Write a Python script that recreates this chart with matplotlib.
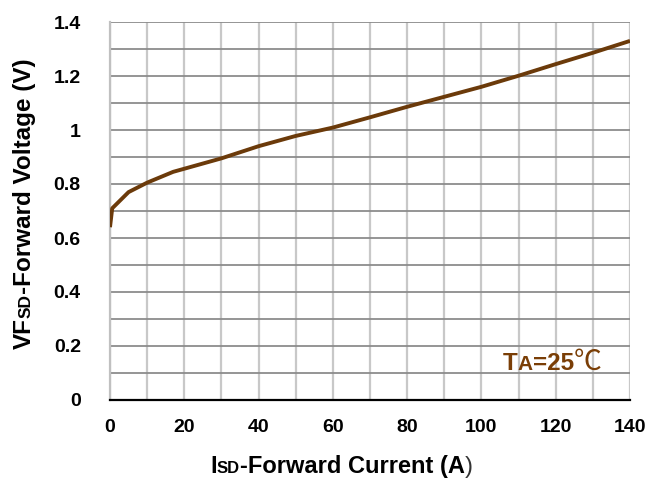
import matplotlib
matplotlib.use('Agg')
import matplotlib.pyplot as plt
from matplotlib.ticker import FormatStrFormatter, MultipleLocator

# 正向电流 (A) / 正向压降 (V)
current = [0, 0.6, 5, 10, 17, 30, 40, 50, 60, 70, 80, 90, 100, 110, 120, 130, 140]
voltage = [0.64, 0.71, 0.77, 0.805, 0.845, 0.895, 0.94, 0.978, 1.009, 1.047,
           1.086, 1.123, 1.16, 1.201, 1.244, 1.286, 1.33]
x_ticks = [0, 20, 40, 60, 80, 100, 120, 140]
y_ticks = [0, 0.2, 0.4, 0.6, 0.8, 1.0, 1.2, 1.4]

W, H = 646, 484
BROWN = '#6b3a0a'
TEXT_BROWN = '#7a3e06'
FONT = 'Liberation Sans'

plt.rcParams['font.family'] = [FONT, 'DejaVu Sans']
plt.rcParams['font.weight'] = 'bold'


def fxy(x, y):
    """像素坐标 -> figure 坐标"""
    return x / W, (H - y) / H


def put_pieces(fig, x, y, pieces, rotation=0):
    """按顺序排列不同字号的文字片段（基线对齐）"""
    renderer = fig.canvas.get_renderer()
    pos = 0.0
    for text, size, color, family, weight in pieces:
        if rotation:
            fx, fy = fxy(x, y - pos)
        else:
            fx, fy = fxy(x + pos, y)
        t = fig.text(fx, fy, text, fontsize=size, color=color, family=family,
                     fontweight=weight, ha='left', va='baseline')
        pos += t.get_window_extent(renderer).width
        if rotation:
            t.set_rotation(rotation)
            t.set_rotation_mode('anchor')


fig = plt.figure(figsize=(W / 100, H / 100), dpi=100)
ax = fig.add_axes([110 / W, (H - 400) / H, 520 / W, 378 / H])

ax.plot(current, voltage, color=BROWN, linewidth=2.8, solid_capstyle='butt', zorder=3)

ax.set_xlim(0, 140)
ax.set_ylim(0, 1.4)
ax.set_xticks(x_ticks)
ax.set_yticks(y_ticks)
ax.yaxis.set_major_formatter(FormatStrFormatter('%g'))
ax.xaxis.set_minor_locator(MultipleLocator(10))
ax.yaxis.set_minor_locator(MultipleLocator(0.1))

# 网格：竖线浅灰，横线深灰
ax.grid(True, which='both', axis='x', color='#c8c8c8', linewidth=1.6)
ax.grid(True, which='both', axis='y', color='#8c8c8c', linewidth=1.3)
ax.set_axisbelow(True)

for side in ['top', 'right']:
    ax.spines[side].set_visible(False)
ax.spines['left'].set_color('#c0c0c0')
ax.spines['left'].set_linewidth(1.6)
ax.spines['bottom'].set_color('black')
ax.spines['bottom'].set_linewidth(1.6)
ax.spines['bottom'].set_zorder(4)

ax.tick_params(which='both', length=0, labelsize=14)
ax.tick_params(axis='y', pad=21)
ax.tick_params(axis='x', pad=14)

# 坐标轴标题
put_pieces(fig, 31, 349, [
    ('VF', 17.5, 'black', FONT, 'bold'),
    ('SD', 12.5, 'black', FONT, 'bold'),
    ('-Forward Voltage (V)', 17.5, 'black', FONT, 'bold'),
], rotation=90)

put_pieces(fig, 210, 473, [
    ('I', 17, 'black', FONT, 'bold'),
    ('SD', 12, 'black', FONT, 'bold'),
    ('-Forward Current (A', 17, 'black', FONT, 'bold'),
    (')', 17, '#333333', FONT, 'normal'),
])

# 温度标注
put_pieces(fig, 503, 370, [
    ('T', 17.5, TEXT_BROWN, FONT, 'bold'),
    ('A', 15, TEXT_BROWN, FONT, 'bold'),
    ('=25', 17.5, TEXT_BROWN, FONT, 'bold'),
    ('℃', 20, TEXT_BROWN, ['Noto Sans CJK SC', 'DejaVu Sans'], 'light'),
])

fig.savefig('out.png', dpi=100)
